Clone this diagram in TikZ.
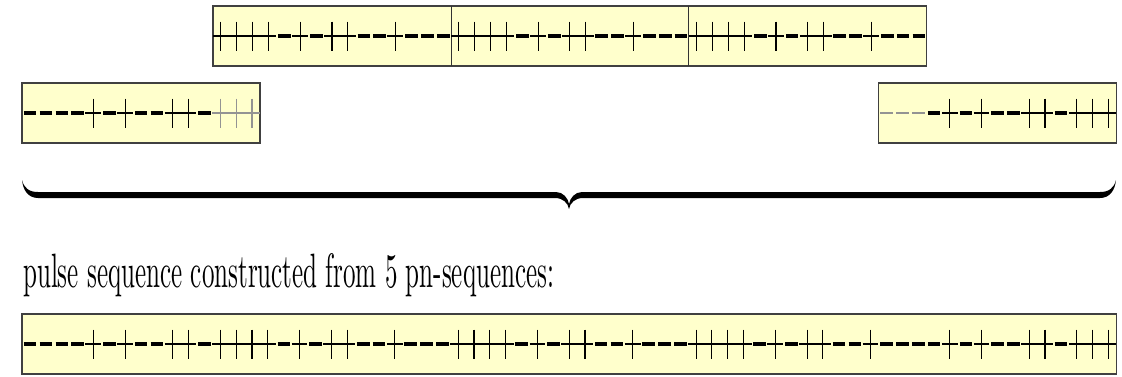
\documentclass[tikz,border=0pt]{standalone}
\usepackage{graphicx}
\usetikzlibrary{calc}
\definecolor{chipfill}{RGB}{255,255,204}
\newcommand{\chipw}{15.86} % width of one chip
% one run of chips: #1 = scope options, #2 = origin (box west), #3 = index of first chip, #4 = chips (1 = +, 0 = -)
\newcommand{\pnchips}[4][]{%
  \begin{scope}[shift={(#2)},#1]
    \foreach \c [count=\k from #3] in {#4} {
      \ifnum\c=1
        \draw[chipplus] (\k*\chipw,0) -- ++(\chipw,0);
        \draw[chipplus] (\k*\chipw+0.5*\chipw,-14.5) -- ++(0,29);
      \else
        \draw[chipminus] (\k*\chipw+1.8,0) -- ++(\chipw-3.2,0);
      \fi
    }
  \end{scope}}
\tikzset{
    chipplus/.style={line width=1.1pt},
    chipminus/.style={line width=3.2pt},
    faded/.style={gray!85, chipminus/.style={line width=1.1pt}},
}

\begin{document}
\begin{tikzpicture}[
    x=1pt, y=-1pt,
    pnbox/.style={rectangle,draw=black!75,fill=chipfill,line width=1.3pt,inner sep=0pt,outer sep=0pt,minimum height=60pt,anchor=north west},
    divider/.style={draw=black!80,line width=0.8pt},
]
\useasboundingbox (0,0) rectangle (1122,376);

% three full pn-sequences
\node[pnbox, minimum width=45*\chipw] (top) at (213,6) {};
\draw[divider] ($(top.north west)+(15*\chipw,0)$) -- ($(top.south west)+(15*\chipw,0)$);
\draw[divider] ($(top.north west)+(30*\chipw,0)$) -- ($(top.south west)+(30*\chipw,0)$);
\pnchips{top.west}{0}{1,1,1,1,0,1,0,1,1,0,0,1,0,0,0}
\pnchips{top.west}{15}{1,1,1,1,0,1,0,1,1,0,0,1,0,0,0}
\pnchips{top.west}{30}{1,1,1,1,0,1,0,1,1,0,0,1,0,0,0}

% cut sequences at both ends
\node[pnbox, minimum width=15*\chipw] (left) at (22,83) {};
\pnchips{left.west}{0}{0,0,0,0,1,0,1,0,0,1,1,0}
\pnchips[faded]{left.west}{12}{1,1,1}

\node[pnbox, minimum width=15*\chipw] (right) at (22+54*\chipw,83) {};
\pnchips[faded]{right.west}{0}{0,0,0}
\pnchips{right.west}{3}{0,1,0,1,0,0,1,1,0,1,1,1}

% the brace
\fill (22,180) .. controls (24,188) and (29,192) .. (38,192) -- (556,192)
      .. controls (563,192) and (568,198) .. (569,204)
      .. controls (570,198) and (575,192) .. (582,192) -- (1100,192)
      .. controls (1109,192) and (1114,188) .. (1116,180)
      .. controls (1115,190) and (1110,198) .. (1100,198) -- (583,198)
      .. controls (575,198) and (570,203) .. (569,209)
      .. controls (568,203) and (563,198) .. (555,198) -- (38,198)
      .. controls (28,198) and (23,190) .. (22,180) -- cycle;

\node[anchor=base west, inner sep=0pt] (caption) at (23,287)
    {\resizebox{531pt}{34pt}{pulse sequence constructed from 5 pn-sequences:}};

% resulting pulse sequence
\node[pnbox, minimum width=69*\chipw] (pulse) at (22,314) {};
\pnchips{pulse.west}{0}{0,0,0,0,1,0,1,0,0,1,1,0}
\pnchips{pulse.west}{12}{1,1,1,1,0,1,0,1,1,0,0,1,0,0,0}
\pnchips{pulse.west}{27}{1,1,1,1,0,1,0,1,1,0,0,1,0,0,0}
\pnchips{pulse.west}{42}{1,1,1,1,0,1,0,1,1,0,0,1,0,0,0}
\pnchips{pulse.west}{57}{0,1,0,1,0,0,1,1,0,1,1,1}
\end{tikzpicture}
\end{document}
